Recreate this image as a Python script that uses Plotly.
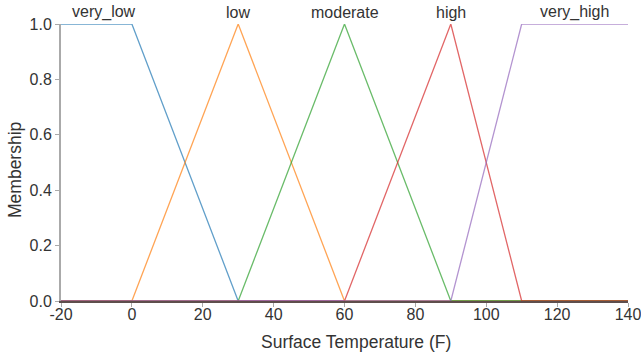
import plotly.graph_objects as go

names = ["very_low", "low", "moderate", "high", "very_high"]
xs = [
    [-20, 0, 30, 140],
    [-20, 0, 30, 60, 140],
    [-20, 30, 60, 90, 140],
    [-20, 60, 90, 110, 140],
    [-20, 90, 110, 140],
]
ys = [
    [1, 1, 0, 0],
    [0, 0, 1, 0, 0],
    [0, 0, 1, 0, 0],
    [0, 0, 1, 0, 0],
    [0, 0, 1, 1],
]
label_x = [-8, 30, 60, 90, 125]
x_ticks = [-20, 0, 20, 40, 60, 80, 100, 120, 140]
x_tick_labels = ["-20", "0", "20", "40", "60", "80", "100", "120", "140"]
y_ticks = [0, 0.2, 0.4, 0.6, 0.8, 1.0]
y_tick_labels = ["0.0", "0.2", "0.4", "0.6", "0.8", "1.0"]
colors = ["#1f77b4", "#ff7f0e", "#2ca02c", "#d62728", "#9467bd"]

fig = go.Figure()
for n, x, y, c in zip(names, xs, ys, colors):
    fig.add_trace(go.Scatter(x=x, y=y, mode="lines", name=n,
                             line=dict(color=c, width=1.3), opacity=0.7,
                             showlegend=False, cliponaxis=False, hoverinfo="skip"))
for n, lx in zip(names, label_x):
    fig.add_annotation(x=lx, y=1, text=n, showarrow=False, yanchor="bottom",
                       yshift=1, font=dict(size=16, color="#333"))

# axis titles
fig.add_annotation(xref="paper", yref="paper", x=0.52, y=0, yshift=-41,
                   xanchor="center", yanchor="middle", showarrow=False,
                   text="Surface Temperature (F)", font=dict(size=17.5, color="#333"))
fig.add_annotation(xref="paper", yref="paper", x=0, xshift=-46, y=0.473,
                   xanchor="center", yanchor="middle", showarrow=False, textangle=-90,
                   text="Membership", font=dict(size=17.5, color="#333"))

font = "Liberation Sans, Arial, sans-serif"
fig.update_layout(
    width=641, height=356,
    margin=dict(l=61, r=13, t=24, b=55),
    plot_bgcolor="white", paper_bgcolor="white",
    font=dict(family=font, size=16, color="#333"),
)
fig.update_xaxes(range=[-20, 140], tickvals=x_ticks, ticktext=x_tick_labels,
                 showgrid=False, zeroline=False, showline=True, linecolor="#5e4e4c",
                 linewidth=1.6, ticks="outside", ticklen=4, tickcolor="#aaa",
                 layer="above traces",
                 automargin=False, ticklabeloverflow="allow", ticklabelstandoff=-6)
fig.update_yaxes(range=[0, 1], tickvals=y_ticks, ticktext=y_tick_labels,
                 showgrid=False, zeroline=False, showline=True, linecolor="#aaa",
                 linewidth=2, ticks="outside", ticklen=4, tickcolor="#aaa",
                 automargin=False)
fig.write_html("out.html", config={"displayModeBar": False},
               post_script="document.body.style.margin='0';document.body.style.overflow='hidden';")
